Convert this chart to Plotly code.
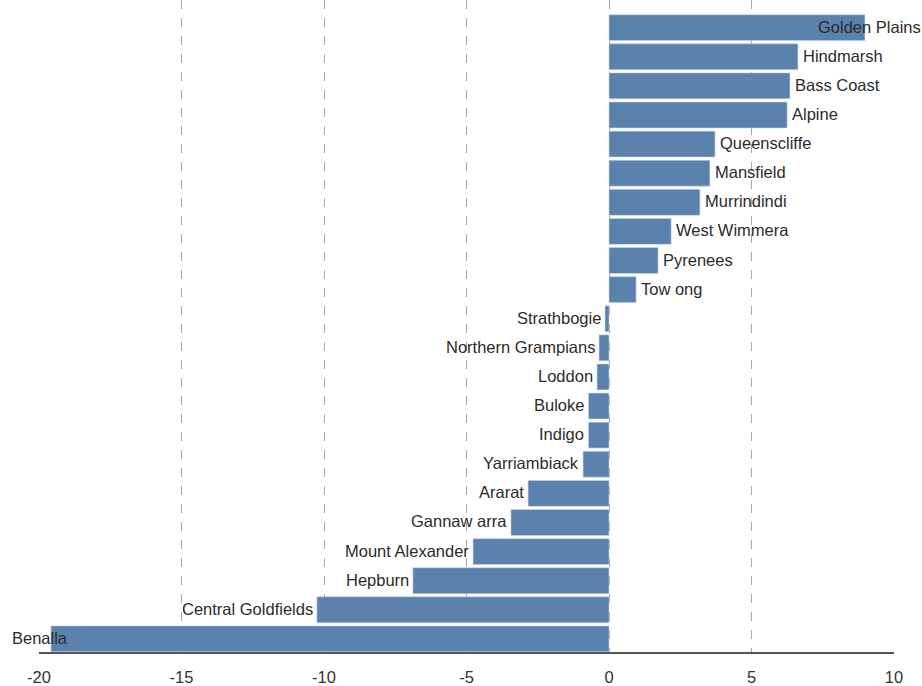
import plotly.graph_objects as go

# Categories from bottom to top
categories = ["Benalla", "Central Goldfields", "Hepburn", "Mount Alexander", "Gannawarra",
              "Ararat", "Yarriambiack", "Indigo", "Buloke", "Loddon", "Northern Grampians",
              "Strathbogie", "Towong", "Pyrenees", "West Wimmera", "Murrindindi", "Mansfield",
              "Queenscliffe", "Alpine", "Bass Coast", "Hindmarsh", "Golden Plains"]
label_text = ["Benalla", "Central Goldfields", "Hepburn", "Mount Alexander", "Gannaw arra",
              "Ararat", "Yarriambiack", "Indigo", "Buloke", "Loddon", "Northern Grampians",
              "Strathbogie", "Tow ong", "Pyrenees", "West Wimmera", "Murrindindi", "Mansfield",
              "Queenscliffe", "Alpine", "Bass Coast", "Hindmarsh", "Golden Plains"]
values = [-19.58, -10.25, -6.88, -4.77, -3.44,
          -2.84, -0.91, -0.72, -0.72, -0.42, -0.35,
          -0.14, 0.95, 1.72, 2.18, 3.19, 3.54,
          3.72, 6.25, 6.35, 6.63, 8.98]
tick_vals = [-20, -15, -10, -5, 0, 5, 10]
tick_text = ["-20", "-15", "-10", "-5", "0", "5", "10"]

bar_color = "#5b81ad"
text_color = "#2b2b2b"
font_family = "Liberation Sans, Arial, sans-serif"

fig = go.Figure()
fig.add_trace(go.Bar(
    x=values, y=list(range(len(categories))), orientation="h",
    marker=dict(color=bar_color, line=dict(color="#c9d4e3", width=0.6)),
    width=0.89, hoverinfo="x+text", hovertext=categories, showlegend=False,
))

annotations = []
for i, (lab, v) in enumerate(zip(label_text, values)):
    if lab == "Golden Plains":
        annotations.append(dict(x=1, xref="paper", y=i, yref="y", text=lab, showarrow=False,
                                xanchor="right", xshift=29, yshift=1,
                                font=dict(size=16.5, color=text_color, family=font_family)))
    elif lab == "Benalla":
        annotations.append(dict(x=0, xref="paper", y=i, yref="y", text=lab, showarrow=False,
                                xanchor="left", xshift=-29, yshift=1,
                                font=dict(size=16.5, color=text_color, family=font_family)))
    elif v >= 0:
        annotations.append(dict(x=v, xref="x", y=i, yref="y", text=lab, showarrow=False,
                                xanchor="left", xshift=3, yshift=1,
                                font=dict(size=16.5, color=text_color, family=font_family)))
    else:
        annotations.append(dict(x=v, xref="x", y=i, yref="y", text=lab, showarrow=False,
                                xanchor="right", xshift=-2, yshift=1,
                                font=dict(size=16.5, color=text_color, family=font_family)))

fig.update_layout(
    width=922, height=686,
    margin=dict(l=39, r=28, t=0, b=32),
    paper_bgcolor="white", plot_bgcolor="white",
    bargap=0.11,
    annotations=annotations,
    font=dict(family=font_family, color=text_color, size=16),
    xaxis=dict(range=[-20, 10], tickvals=tick_vals, ticktext=tick_text,
               showgrid=True, gridcolor="#a8a8a8", griddash="dash", gridwidth=1,
               zeroline=False, showline=True, linecolor="#555555", linewidth=1.5,
               ticks="", ticklabelstandoff=9,
               tickfont=dict(size=16.5, color="#333333"), fixedrange=True),
    yaxis=dict(range=[-0.45, 21.95], showticklabels=False, showgrid=False,
               zeroline=False, showline=False, ticks="", fixedrange=True),
)

fig.write_html("out.html", config={"displayModeBar": False},
               post_script="document.body.style.margin='0';document.body.style.overflow='hidden';")
